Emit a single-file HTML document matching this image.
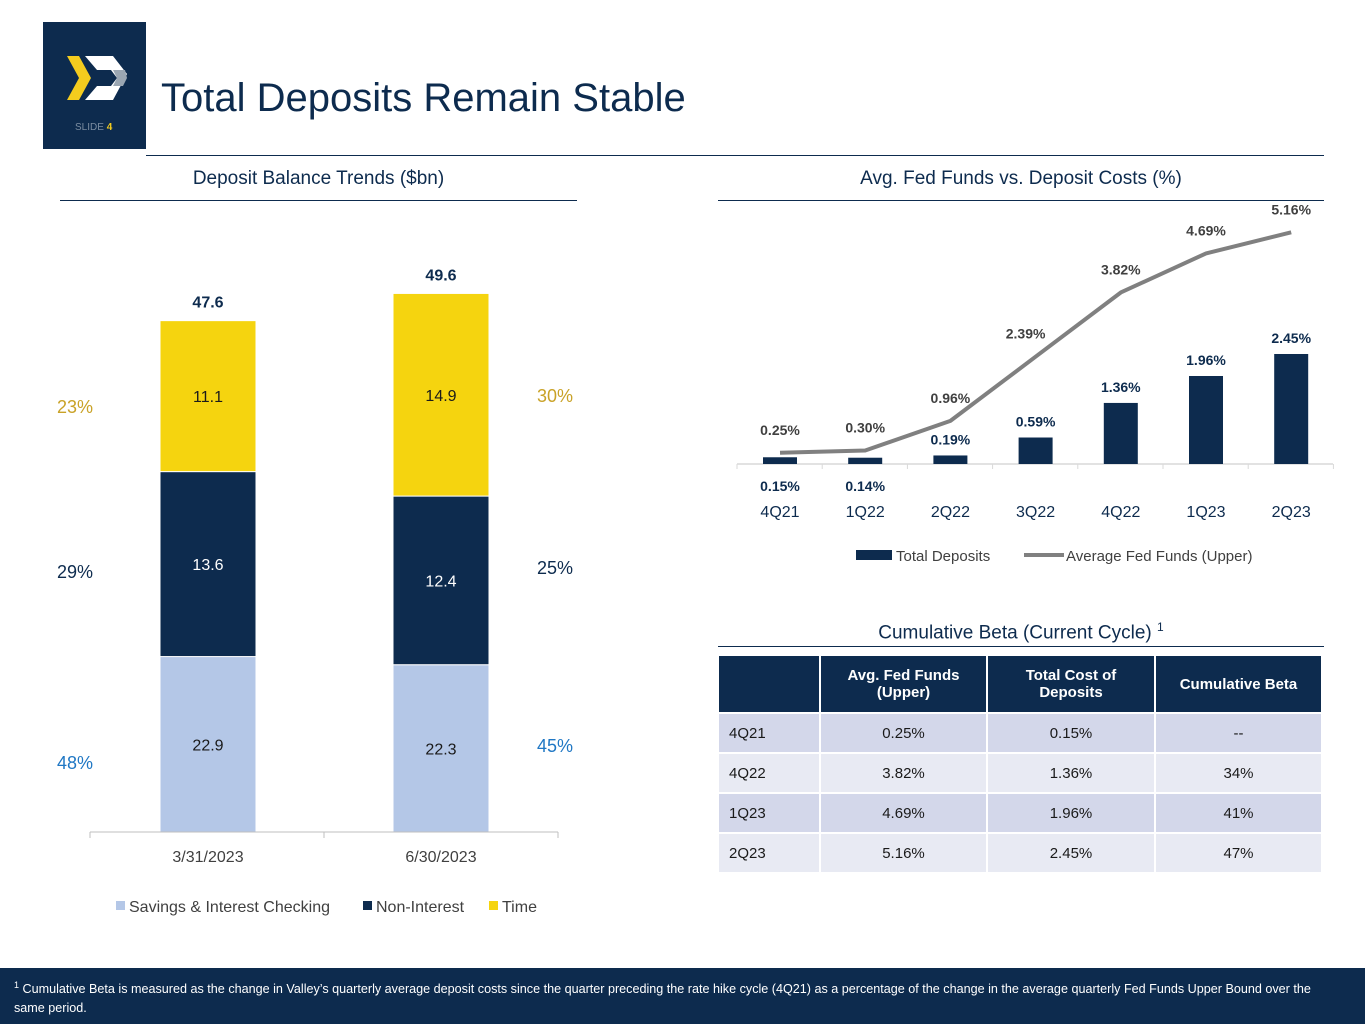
<!DOCTYPE html>
<html><head><meta charset="utf-8">
<style>
body{margin:0;width:1365px;height:1024px;background:#fff;position:relative;overflow:hidden;font-family:"Liberation Sans","DejaVu Sans",sans-serif;}
.abs{position:absolute;}
table{border-collapse:separate;border-spacing:2px;table-layout:fixed}
td,th{font-size:15px;color:#1a1a1a;text-align:center;height:38px;padding:0}
th{background:#0d2b4e;color:#fff;font-weight:bold;height:56px;}
tr.a td{background:#d3d7ea}
tr.b td{background:#e8eaf3}
td.l{text-align:left;padding-left:10px}
</style></head><body>
<div class="abs" style="left:43px;top:22px;width:103px;height:127px;background:#0d2b4e">
<svg width="103" height="127" viewBox="0 0 103 127">
<polygon points="24,34 36,34 48,56 36,78 24,78 36,56" fill="#f4cc1e"/>
<polygon points="42,34 70,34 84,52 70,78 42,78 54,64 68,64 74,56 68,48 54,48" fill="#fff"/>
<polygon points="70,48 82,48 84,56 80,64 70,64 74,56" fill="#9aa6b2"/>
<text x="32" y="108" font-size="10" fill="#7a8ca0" font-family="Liberation Sans">SLIDE <tspan fill="#f4cc1e" font-weight="bold">4</tspan></text>
</svg></div>
<div class="abs" style="left:161px;top:76px;font-size:40px;color:#0d2b4e">Total Deposits Remain Stable</div>
<div class="abs" style="left:146px;top:155px;width:1178px;height:1px;background:#0d2b4e"></div>

<div class="abs" style="left:60px;top:168px;width:517px;text-align:center;font-size:19px;color:#0d2b4e">Deposit Balance Trends ($bn)</div>
<div class="abs" style="left:60px;top:200px;width:517px;height:1px;background:#0d2b4e"></div>
<div class="abs" style="left:718px;top:168px;width:606px;text-align:center;font-size:19px;color:#0d2b4e">Avg. Fed Funds vs. Deposit Costs (%)</div>
<div class="abs" style="left:718px;top:200px;width:606px;height:1px;background:#0d2b4e"></div>

<svg class="abs" style="left:0;top:0" width="1365" height="960" id="charts"></svg>

<div class="abs" style="left:718px;top:620px;width:606px;text-align:center;font-size:19px;color:#0d2b4e">Cumulative Beta (Current Cycle) <sup style="font-size:12px">1</sup></div>
<div class="abs" style="left:718px;top:646px;width:606px;height:1px;background:#0d2b4e"></div>
<table class="abs" style="left:717px;top:654px;width:606px">
<tr><th style="width:100px"></th><th style="width:165px">Avg. Fed Funds<br>(Upper)</th><th style="width:166px">Total Cost of<br>Deposits</th><th>Cumulative Beta</th></tr>
<tr class="a"><td class="l">4Q21</td><td>0.25%</td><td>0.15%</td><td>--</td></tr>
<tr class="b"><td class="l">4Q22</td><td>3.82%</td><td>1.36%</td><td>34%</td></tr>
<tr class="a"><td class="l">1Q23</td><td>4.69%</td><td>1.96%</td><td>41%</td></tr>
<tr class="b"><td class="l">2Q23</td><td>5.16%</td><td>2.45%</td><td>47%</td></tr>
</table>

<div class="abs" style="left:0;top:968px;width:1365px;height:56px;background:#0d2b4e;color:#fff;font-size:12.6px;line-height:19px;padding:8px 20px 0 14px;box-sizing:border-box"><sup style="font-size:9px">1</sup> Cumulative Beta is measured as the change in Valley’s quarterly average deposit costs since the quarter preceding the rate hike cycle (4Q21) as a percentage of the change in the average quarterly Fed Funds Upper Bound over the same period.</div>

<script>
const depCats=["3/31/2023","6/30/2023"];
const savings=[22.9,22.3];
const nonInt=[13.6,12.4];
const timeDep=[11.1,14.9];
const totals=[47.6,49.6];
const leftPctL=["23%","29%","48%"];
const leftPctR=["30%","25%","45%"];
const qCats=["4Q21","1Q22","2Q22","3Q22","4Q22","1Q23","2Q23"];
const depCost=[0.15,0.14,0.19,0.59,1.36,1.96,2.45];
const fedFunds=[0.25,0.30,0.96,2.39,3.82,4.69,5.16];

const NS="http://www.w3.org/2000/svg";
const svg=document.getElementById('charts');
function mk(t,a,txt){const e=document.createElementNS(NS,t);for(const k in a)e.setAttribute(k,a[k]);if(txt!==undefined)e.textContent=txt;svg.appendChild(e);return e;}
// left chart
const yL=v=>832-13.6*(v-10);
const xL=i=>208+i*233;
const bw=96;
const colors=["#b4c7e7","#0d2b4e","#f5d40f"];
const txtCol=["#1a1a1a","#ffffff","#1a1a1a"];
depCats.forEach((c,i)=>{
  const segs=[savings[i],nonInt[i],timeDep[i]];
  let cum=0;
  segs.forEach((v,s)=>{
    const y0=s===0?832:yL(cum);cum+=v;const y1=yL(cum);
    const r=mk('rect',{x:xL(i)-bw/2,y:y1,width:bw,height:y0-y1,fill:colors[s],stroke:'#fff','stroke-width':1});
    
    
    const t=mk('text',{x:xL(i),y:(y0+y1)/2+6,'text-anchor':'middle','font-size':16,fill:txtCol[s]},v.toFixed(1));
    
    
  });
  const tt=mk('text',{x:xL(i),y:yL(totals[i])-13,'text-anchor':'middle','font-size':16,'font-weight':'bold',fill:'#0d2b4e'},totals[i].toFixed(1));
  
  
  const cl=mk('text',{x:xL(i),y:862,'text-anchor':'middle','font-size':16,fill:'#404040'},c);
  
  
});
mk('line',{x1:90,x2:558,y1:832,y2:832,stroke:'#bfbfbf'});
[90,324,558].forEach(x=>mk('line',{x1:x,x2:x,y1:832,y2:838,stroke:'#bfbfbf'}));
const pcCol=["#c9a227","#0d2b4e","#1f77c4"];
const pyL=[413,578,769],pyR=[402,574,752];
leftPctL.forEach((p,k)=>{const t=mk('text',{x:75,y:pyL[k],'text-anchor':'middle','font-size':18,fill:pcCol[k]},p);});
leftPctR.forEach((p,k)=>{const t=mk('text',{x:555,y:pyR[k],'text-anchor':'middle','font-size':18,fill:pcCol[k]},p);});
// left legend
const legL=[["Savings & Interest Checking",116],["Non-Interest",363],["Time",489]];
legL.forEach((l,k)=>{mk('rect',{x:l[1],y:901,width:9,height:9,fill:colors[k]});const t=mk('text',{x:l[1]+13,y:912,'font-size':16,fill:'#404040'},l[0]);});
// right chart
const yR=v=>464-44.9*v;
const xR=i=>780+i*85.2;
mk('line',{x1:737,x2:1333,y1:464,y2:464,stroke:'#d9d9d9','stroke-width':1.5});
for(let i=0;i<=7;i++)mk('line',{x1:737+i*85.2,x2:737+i*85.2,y1:464,y2:469,stroke:'#d9d9d9'});
qCats.forEach((c,i)=>{
  const b=mk('rect',{x:xR(i)-17,y:yR(depCost[i]),width:34,height:464-yR(depCost[i]),fill:'#0d2b4e'});
  
  
  const below=i<2;
  const bl=mk('text',{x:xR(i),y:below?491:yR(depCost[i])-11,'text-anchor':'middle','font-size':14,'font-weight':'bold',fill:'#0d2b4e'},depCost[i].toFixed(2)+'%');
  
  
  const xl=mk('text',{x:xR(i),y:517,'text-anchor':'middle','font-size':16,fill:'#0d2b4e'},c);
  
  
  const ll=mk('text',{x:xR(i)+(i===3?-10:0),y:yR(fedFunds[i])-18,'text-anchor':'middle','font-size':14,'font-weight':'bold',fill:'#404040'},fedFunds[i].toFixed(2)+'%');
  
  
});
const line=mk('polyline',{points:fedFunds.map((v,i)=>xR(i)+','+yR(v)).join(' '),fill:'none',stroke:'#808080','stroke-width':4,'stroke-linejoin':'round'});


mk('rect',{x:856,y:550,width:36,height:10,fill:'#0d2b4e'});
const lg1=mk('text',{x:896,y:561,'font-size':15,fill:'#404040'},'Total Deposits');


mk('line',{x1:1024,x2:1064,y1:555,y2:555,stroke:'#808080','stroke-width':4});
const lg2=mk('text',{x:1066,y:561,'font-size':15,fill:'#404040'},'Average Fed Funds (Upper)');


</script>
</body></html>
